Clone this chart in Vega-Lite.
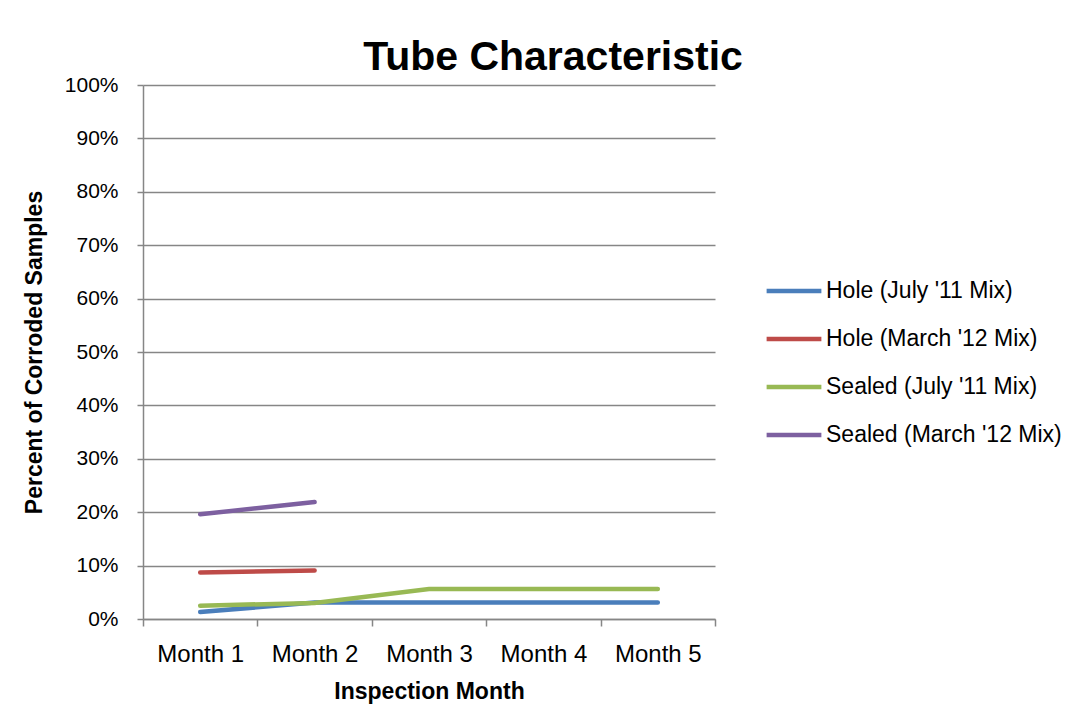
{
  "$schema": "https://vega.github.io/schema/vega-lite/v6.json",
  "autosize": {"type": "none"},
  "width": 572,
  "height": 534,
  "padding": {"left": 143, "top": 85, "right": 377, "bottom": 92},
  "background": "white",
  "title": {
    "text": "Tube Characteristic",
    "font": "Liberation Sans",
    "fontSize": 41,
    "fontWeight": "bold",
    "color": "black",
    "anchor": "middle",
    "dx": 124,
    "offset": -5
  },
  "config": {
    "view": {"stroke": null},
    "font": "Liberation Sans"
  },
  "data": {
    "values": [
      {"month": "Month 1", "series": "Hole (July '11 Mix)", "value": 0.013},
      {"month": "Month 2", "series": "Hole (July '11 Mix)", "value": 0.031},
      {"month": "Month 3", "series": "Hole (July '11 Mix)", "value": 0.031},
      {"month": "Month 4", "series": "Hole (July '11 Mix)", "value": 0.031},
      {"month": "Month 5", "series": "Hole (July '11 Mix)", "value": 0.031},
      {"month": "Month 1", "series": "Hole (March '12 Mix)", "value": 0.087},
      {"month": "Month 2", "series": "Hole (March '12 Mix)", "value": 0.091},
      {"month": "Month 1", "series": "Sealed (July '11 Mix)", "value": 0.025},
      {"month": "Month 2", "series": "Sealed (July '11 Mix)", "value": 0.030},
      {"month": "Month 3", "series": "Sealed (July '11 Mix)", "value": 0.056},
      {"month": "Month 4", "series": "Sealed (July '11 Mix)", "value": 0.056},
      {"month": "Month 5", "series": "Sealed (July '11 Mix)", "value": 0.056},
      {"month": "Month 1", "series": "Sealed (March '12 Mix)", "value": 0.196},
      {"month": "Month 2", "series": "Sealed (March '12 Mix)", "value": 0.219}
    ]
  },
  "mark": {"type": "line", "strokeWidth": 4.5, "strokeCap": "round"},
  "encoding": {
    "x": {
      "field": "month",
      "type": "nominal",
      "scale": {"type": "band", "paddingInner": 0, "paddingOuter": 0},
      "axis": {
        "title": "Inspection Month",
        "titleFontSize": 23,
        "titleFontWeight": "bold",
        "titleColor": "black",
        "titlePadding": 14,
        "labelAngle": 0,
        "labelFontSize": 24,
        "labelColor": "black",
        "labelPadding": 16,
        "tickBand": "extent",
        "tickSize": 7,
        "tickColor": "#868686",
        "tickWidth": 1.5,
        "domainColor": "#868686",
        "domainWidth": 1.5,
        "grid": false
      }
    },
    "y": {
      "field": "value",
      "type": "quantitative",
      "scale": {"domain": [0, 1], "nice": false},
      "axis": {
        "title": "Percent of Corroded Samples",
        "titleFontSize": 23,
        "titleFontWeight": "bold",
        "titleColor": "black",
        "titlePadding": 18,
        "format": ".0%",
        "values": [0, 0.1, 0.2, 0.3, 0.4, 0.5, 0.6, 0.7, 0.8, 0.9, 1],
        "labelFontSize": 21,
        "labelColor": "black",
        "labelPadding": 19,
        "tickSize": 6,
        "tickColor": "#868686",
        "tickWidth": 1.5,
        "domainColor": "#868686",
        "domainWidth": 1.5,
        "grid": true,
        "gridColor": "#868686",
        "gridWidth": 1.5
      }
    },
    "color": {
      "field": "series",
      "type": "nominal",
      "scale": {
        "domain": ["Hole (July '11 Mix)", "Hole (March '12 Mix)", "Sealed (July '11 Mix)", "Sealed (March '12 Mix)"],
        "range": ["#4A7EBB", "#BE4B48", "#98B954", "#7D60A0"]
      },
      "legend": {
        "title": null,
        "orient": "none",
        "legendX": 621,
        "legendY": 176,
        "symbolType": "stroke",
        "symbolSize": 3000,
        "symbolStrokeWidth": 4.5,
        "labelFontSize": 23,
        "labelColor": "black",
        "labelLimit": 0,
        "labelOffset": 2,
        "rowPadding": 6
      }
    }
  }
}
